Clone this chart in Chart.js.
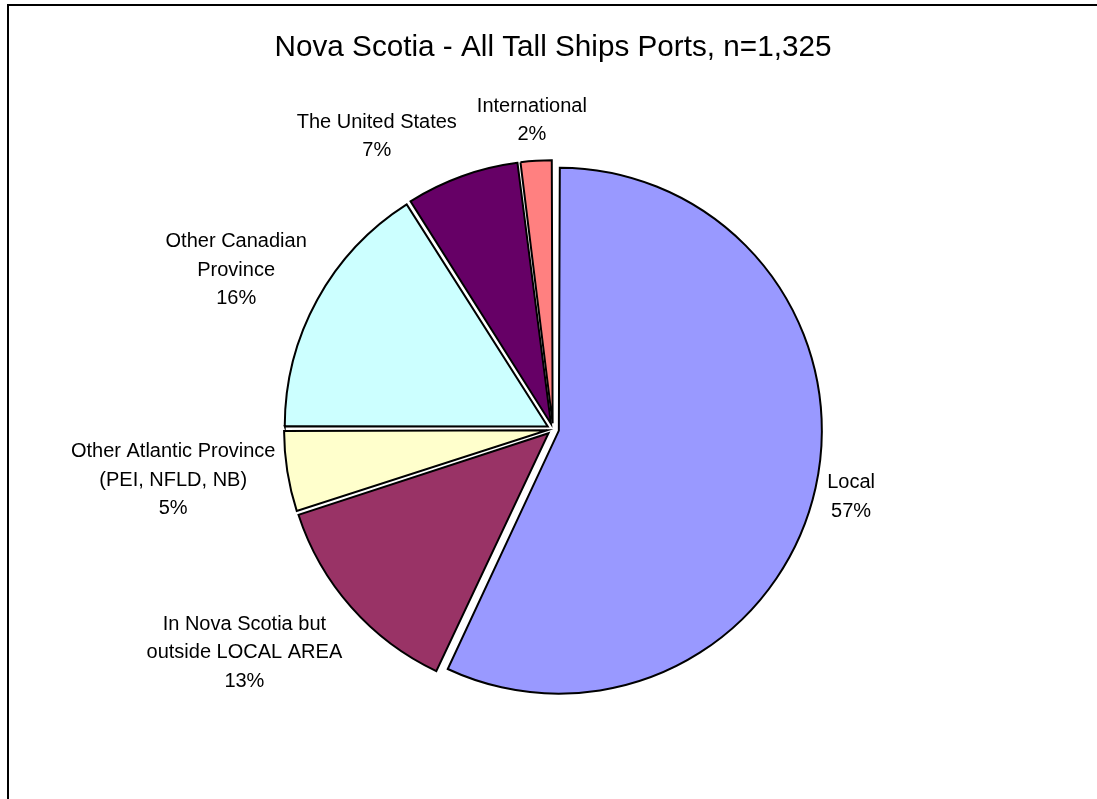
<!DOCTYPE html>
<html lang="en">
  <head>
    <meta charset="UTF-8" />
    <title>Nova Scotia - All Tall Ships Ports</title>
    <script src="https://cdn.jsdelivr.net/npm/chart.js@4.4.1/dist/chart.umd.min.js"></script>
    <style>
      body {
        margin: 0;
        background-color: #fff;
        overflow: hidden;
      }

      #pieChart {
        display: block;
      }
    </style>
  </head>
  <body>
    <canvas id="pieChart" width="1097" height="799"></canvas>
    <script>
      // visitor origin, clockwise from 12 o'clock
      const categories = [
        ['Local'],
        ['In Nova Scotia but', 'outside LOCAL AREA'],
        ['Other Atlantic Province', '(PEI, NFLD, NB)'],
        ['Other Canadian', 'Province'],
        ['The United States'],
        ['International']
      ]
      const shares = [57, 13, 5, 16, 7, 2]
      const sliceColors = ['#9999FF', '#993366', '#FFFFCC', '#CCFFFF', '#660066', '#FF8080']

      const fontFamily = 'Arial, "Liberation Sans", sans-serif'
      const pieRadius = 263
      const explode = 6 // every slice is pulled out this many px
      const labelFont = '20px ' + fontFamily
      const labelLineHeight = 28.5
      const labelGap = 12
      const labelPad = 20

      // left and top edge of the chart frame
      const frame = {
        id: 'frame',
        beforeDraw(chart) {
          const ctx = chart.ctx
          ctx.save()
          ctx.strokeStyle = '#000'
          ctx.lineWidth = 2
          ctx.beginPath()
          ctx.moveTo(8, chart.height)
          ctx.lineTo(8, 5)
          ctx.lineTo(chart.width, 5)
          ctx.stroke()
          ctx.restore()
        }
      }

      // Chart.js grows offset arcs by offset * fix, take it back so all slices share one radius
      const evenRadius = {
        id: 'evenRadius',
        beforeDatasetsDraw(chart) {
          chart.getDatasetMeta(0).data.forEach(arc => {
            const fix = 1 - Math.sin(Math.min(Math.PI, arc.circumference))
            arc.outerRadius = pieRadius - explode * fix
          })
        }
      }

      // category name + percentage outside each slice
      const sliceLabels = {
        id: 'sliceLabels',
        afterDatasetsDraw(chart) {
          const ctx = chart.ctx
          const meta = chart.getDatasetMeta(0)
          const total = shares.reduce((a, b) => a + b, 0)
          ctx.save()
          ctx.font = labelFont
          ctx.fillStyle = '#000'
          ctx.textAlign = 'center'
          ctx.textBaseline = 'middle'

          const boxes = meta.data.map((arc, i) => {
            const lines = [...categories[i], Math.round((shares[i] / total) * 100) + '%']
            const mid = (arc.startAngle + arc.endAngle) / 2
            const dx = Math.cos(mid)
            const dy = Math.sin(mid)
            const w = Math.max(...lines.map(l => ctx.measureText(l).width))
            const h = lines.length * labelLineHeight
            const dist = explode + pieRadius + labelGap
            // push the box out so its near corner/edge sits on the anchor point
            const k = Math.max(Math.abs(dx), Math.abs(dy))
            return {
              lines, dx, w, h,
              cx: arc.x + dx * dist + (dx / k) * (w / 2),
              cy: arc.y + dy * dist + (dy / k) * (h / 2)
            }
          })

          // labels near the top/bottom stay put, side labels slide away from any overlap
          const placed = []
          boxes
            .slice()
            .sort((a, b) => Math.abs(a.dx) - Math.abs(b.dx))
            .forEach(b => {
              placed.forEach(o => {
                const overlapX = Math.abs(b.cx - o.cx) < (b.w + o.w) / 2 + labelPad
                const overlapY = Math.abs(b.cy - o.cy) < (b.h + o.h) / 2
                if (overlapX && overlapY) {
                  const s = b.dx < 0 ? -1 : 1
                  b.cx = o.cx + s * ((b.w + o.w) / 2 + labelPad)
                }
              })
              placed.push(b)
            })

          boxes.forEach(b => {
            b.lines.forEach((line, j) => {
              ctx.fillText(line, b.cx, b.cy - b.h / 2 + labelLineHeight * (j + 0.5))
            })
          })
          ctx.restore()
        }
      }

      new Chart(document.getElementById('pieChart'), {
        type: 'pie',
        data: {
          labels: categories,
          datasets: [
            {
              data: shares,
              backgroundColor: sliceColors,
              borderColor: '#000',
              borderWidth: 2,
              borderJoinStyle: 'miter',
              offset: explode * 4
            }
          ]
        },
        options: {
          responsive: false,
          animation: false,
          events: [],
          radius: pieRadius,
          layout: { padding: { left: 9, right: 0, top: 0, bottom: 6 } },
          plugins: {
            legend: { display: false },
            tooltip: { enabled: false },
            title: {
              display: true,
              text: 'Nova Scotia - All Tall Ships Ports, n=1,325',
              color: '#000',
              font: { family: fontFamily, size: 29.7, weight: 'normal', lineHeight: 1.2 },
              padding: { top: 30, bottom: 0 }
            }
          }
        },
        plugins: [frame, evenRadius, sliceLabels]
      })
    </script>
  </body>
</html>
